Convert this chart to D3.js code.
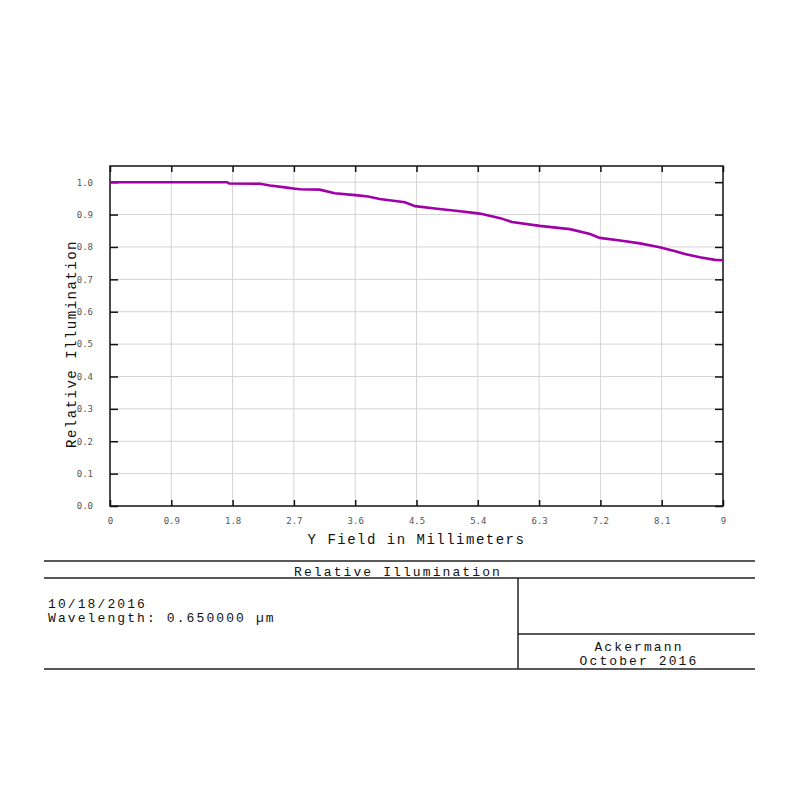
<!DOCTYPE html>
<html>
<head>
<meta charset="utf-8">
<script src="https://cdn.jsdelivr.net/npm/d3@7"></script>
<style>
  html, body { margin: 0; padding: 0; background: #fff; }
  svg { display: block; }
</style>
</head>
<body>
<svg id="chart" width="800" height="800"></svg>
<script>
// ---- data ----
const fieldMm = [0, 0.5, 1.0, 1.5, 1.72, 1.75, 2.2, 2.35, 2.57, 2.72, 2.79, 3.08, 3.3, 3.6, 3.79, 3.96, 4.33, 4.48, 4.77, 5.14, 5.43, 5.73, 5.9, 6.31, 6.75, 7.05, 7.19, 7.49, 7.78, 8.07, 8.3, 8.44, 8.66, 8.88, 9.0];
const relIllum = [1.0, 1.0, 1.0, 1.0, 1.0, 0.996, 0.995, 0.99, 0.984, 0.98, 0.978, 0.977, 0.966, 0.96, 0.956, 0.948, 0.938, 0.926, 0.919, 0.91, 0.903, 0.889, 0.877, 0.865, 0.855, 0.84, 0.828, 0.82, 0.811, 0.799, 0.787, 0.778, 0.768, 0.76, 0.759];
const xTicks = [0, 0.9, 1.8, 2.7, 3.6, 4.5, 5.4, 6.3, 7.2, 8.1, 9];
const xTickLabels = ["0", "0.9", "1.8", "2.7", "3.6", "4.5", "5.4", "6.3", "7.2", "8.1", "9"];
const yTicks = [0, 0.1, 0.2, 0.3, 0.4, 0.5, 0.6, 0.7, 0.8, 0.9, 1.0];
const yTickLabels = ["0.0", "0.1", "0.2", "0.3", "0.4", "0.5", "0.6", "0.7", "0.8", "0.9", "1.0"];
const chartTitle = "Relative Illumination";
const xTitle = "Y Field in Millimeters";
const yTitle = "Relative Illumination";
const infoLines = ["10/18/2016", "Wavelength: 0.650000 \u00b5m"];
const authorLines = ["Ackermann", "October 2016"];

// ---- layout ----
const svg = d3.select("#chart");
const L = 110, R = 723, T = 166, B = 506;
const x = d3.scaleLinear().domain([0, 9]).range([L, R]);
const y = d3.scaleLinear().domain([0, 1.05]).range([B, T]);
const mono = "'Liberation Mono', 'Courier New', monospace";
const tickFont = "'DejaVu Sans Mono', monospace";

// grid
const g = svg.append("g");
g.selectAll("line.gx").data(xTicks.slice(1, -1)).enter().append("line")
  .attr("x1", d => x(d)).attr("x2", d => x(d)).attr("y1", T).attr("y2", B)
  .attr("stroke", "#d4d4d4").attr("stroke-width", 1);
g.selectAll("line.gy").data(yTicks.slice(1)).enter().append("line")
  .attr("x1", L).attr("x2", R).attr("y1", d => y(d)).attr("y2", d => y(d))
  .attr("stroke", "#d4d4d4").attr("stroke-width", 1);

// axes with inward ticks
const axB = d3.axisBottom(x).tickValues(xTicks).tickSize(-6).tickFormat((d, i) => xTickLabels[i]).tickPadding(12);
const axT = d3.axisTop(x).tickValues(xTicks).tickSize(-6).tickFormat("");
const axLft = d3.axisLeft(y).tickValues(yTicks).tickSize(-8).tickFormat((d, i) => yTickLabels[i]).tickPadding(17);
const axRgt = d3.axisRight(y).tickValues(yTicks).tickSize(-8).tickFormat("");

function styleAxis(sel) {
  sel.select(".domain").remove();
  sel.selectAll(".tick line").attr("stroke", "#111").attr("stroke-width", 1.5);
  sel.selectAll(".tick text").attr("font-family", tickFont).attr("font-size", 9).attr("fill", "#555");
}
svg.append("g").attr("transform", `translate(0,${B})`).call(axB).call(styleAxis);
svg.append("g").attr("transform", `translate(0,${T})`).call(axT).call(styleAxis);
svg.append("g").attr("transform", `translate(${L},0)`).call(axLft).call(styleAxis);
svg.append("g").attr("transform", `translate(${R},0)`).call(axRgt).call(styleAxis);

// frame
svg.append("rect").attr("x", L).attr("y", T).attr("width", R - L).attr("height", B - T)
  .attr("fill", "none").attr("stroke", "#111").attr("stroke-width", 1.5);

// curve
const pts = fieldMm.map((f, i) => [f, relIllum[i]]);
svg.append("path").datum(pts)
  .attr("d", d3.line().x(d => x(d[0])).y(d => y(d[1])))
  .attr("fill", "none").attr("stroke", "#a000a8").attr("stroke-width", 2.6);

// axis titles
svg.append("text").attr("x", (L + R) / 2 + 0).attr("y", 544).attr("text-anchor", "middle")
  .attr("font-family", mono).attr("font-size", 14).attr("letter-spacing", 1.5).attr("fill", "#111").text(xTitle);
svg.append("text").attr("transform", `translate(76,${(T + B) / 2 + 8}) rotate(-90)`).attr("text-anchor", "middle")
  .attr("font-family", mono).attr("font-size", 14).attr("letter-spacing", 1.5).attr("fill", "#111").text(yTitle);

// title block
const tb = svg.append("g").attr("stroke", "#222").attr("stroke-width", 1.5);
tb.append("line").attr("x1", 44).attr("x2", 755).attr("y1", 561).attr("y2", 561);
tb.append("line").attr("x1", 44).attr("x2", 755).attr("y1", 578).attr("y2", 578);
tb.append("line").attr("x1", 44).attr("x2", 755).attr("y1", 669).attr("y2", 669);
tb.append("line").attr("x1", 518).attr("x2", 518).attr("y1", 578).attr("y2", 669);
tb.append("line").attr("x1", 518).attr("x2", 755).attr("y1", 634).attr("y2", 634);

const txt = (sx, sy, s, anchor) => svg.append("text").attr("x", sx).attr("y", sy)
  .attr("text-anchor", anchor || "start").attr("font-family", mono).attr("font-size", 13)
  .attr("letter-spacing", 2.1).attr("fill", "#111").text(s);
txt(398, 576, chartTitle, "middle");
txt(48, 608, infoLines[0]);
txt(48, 622, infoLines[1]);
txt(639, 651, authorLines[0], "middle");
txt(639, 665, authorLines[1], "middle");
</script>
</body>
</html>
